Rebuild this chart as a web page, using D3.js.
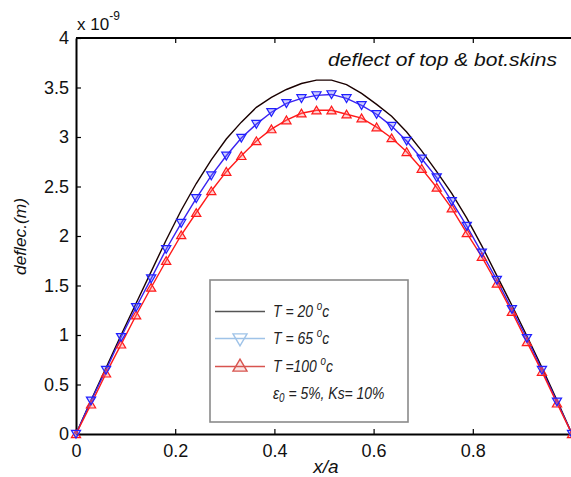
<!DOCTYPE html>
<html><head><meta charset="utf-8">
<script src="https://cdn.jsdelivr.net/npm/d3@7"></script>
<style>body{margin:0;background:#fff}svg{display:block}</style>
</head><body>
<script>
// x positions: k/33, k = 0..33
const xIdx = d3.range(34);
const xVals = xIdx.map(k => k / 33);
const yBlack = [0, 0.34, 0.67, 1.00, 1.32, 1.64, 1.96, 2.26, 2.53, 2.77, 2.98, 3.15, 3.30, 3.40, 3.48, 3.54, 3.575, 3.575, 3.53, 3.44, 3.33, 3.21, 3.05, 2.86, 2.65, 2.43, 2.18, 1.90, 1.60, 1.30, 0.99, 0.67, 0.34, 0];
const yBlue = [0, 0.336, 0.646, 0.977, 1.28, 1.57, 1.866, 2.13, 2.38, 2.61, 2.81, 2.99, 3.13, 3.25, 3.34, 3.39, 3.42, 3.43, 3.39, 3.32, 3.23, 3.11, 2.96, 2.78, 2.59, 2.35, 2.10, 1.83, 1.556, 1.26, 0.967, 0.646, 0.326, 0];
const yRed = [0, 0.30, 0.613, 0.906, 1.20, 1.48, 1.75, 2.01, 2.235, 2.455, 2.65, 2.81, 2.96, 3.08, 3.17, 3.24, 3.27, 3.27, 3.23, 3.19, 3.10, 2.99, 2.85, 2.68, 2.49, 2.28, 2.03, 1.79, 1.52, 1.235, 0.93, 0.63, 0.31, 0];
const xTicks = [0, 0.2, 0.4, 0.6, 0.8];
const xTickLabels = ["0", "0.2", "0.4", "0.6", "0.8"];
const yTicks = [0, 0.5, 1, 1.5, 2, 2.5, 3, 3.5, 4];
const yTickLabels = ["0", "0.5", "1", "1.5", "2", "2.5", "3", "3.5", "4"];
const legendLabels = ["T = 20 ", "T = 65 ", "T =100 "];

const W = 571, H = 477;
const svg = d3.select("body").append("svg").attr("width", W).attr("height", H);
const x = d3.scaleLinear().domain([0, 1]).range([76, 572]);
const y = d3.scaleLinear().domain([0, 4]).range([434, 38]);

const font = "'Liberation Sans', Arial, sans-serif";

// axes
const xAxis = d3.axisBottom(x).tickValues(xTicks).tickFormat((d,i)=>xTickLabels[i]).tickSizeInner(-5).tickSizeOuter(0).tickPadding(10);
const gx = svg.append("g").attr("transform", `translate(0,${y(0)})`).call(xAxis);
const gxTop = svg.append("g").attr("transform", `translate(0,${y(4)})`).call(d3.axisTop(x).tickValues(xTicks.slice(1)).tickSizeInner(-5).tickSizeOuter(0).tickFormat(""));
const yAxis = d3.axisLeft(y).tickValues(yTicks).tickFormat((d,i)=>yTickLabels[i]).tickSizeInner(-5).tickSizeOuter(0).tickPadding(7);
const gy = svg.append("g").attr("transform", `translate(${x(0)},0)`).call(yAxis);
[gx, gxTop, gy].forEach(g => {
  g.select(".domain").attr("stroke", "#000").attr("stroke-width", 2);
  g.selectAll(".tick line").attr("stroke", "#000").attr("stroke-width", 1.2);
  g.selectAll(".tick text").attr("font-family", font).attr("font-size", 18).attr("fill", "#111");
});
gx.selectAll(".tick text").attr("dy", "0.71em");
gxTop.select(".domain").attr("d", `M${x(0)},0H${x(1)}`);

// lines
const line = d3.line().x((d,i)=>x(xVals[i])).y(d=>y(d));
svg.append("path").datum(yBlack).attr("d", line).attr("fill","none").attr("stroke","#1a0000").attr("stroke-width",1.4);
svg.append("path").datum(yBlue).attr("d", line).attr("fill","none").attr("stroke","#3a22f0").attr("stroke-width",1.4);
svg.append("path").datum(yRed).attr("d", line).attr("fill","none").attr("stroke","#ff1a1a").attr("stroke-width",1.4);

const triDown = (s) => `M${-s},${-s*0.8}L${s},${-s*0.8}L0,${s*0.9}Z`;
const triUp = (s) => `M${-s},${s*0.8}L${s},${s*0.8}L0,${-s*0.9}Z`;

svg.append("g").selectAll("path").data(yRed).join("path")
  .attr("transform", (d,i)=>`translate(${x(xVals[i])},${y(d)})`)
  .attr("d", triUp(4.6)).attr("fill","rgba(255,120,120,0.35)").attr("stroke","#ff1a1a").attr("stroke-width",1.2);
svg.append("g").selectAll("path").data(yBlue).join("path")
  .attr("transform", (d,i)=>`translate(${x(xVals[i])},${y(d)})`)
  .attr("d", triDown(4.6)).attr("fill","rgba(110,110,255,0.35)").attr("stroke","#2020ff").attr("stroke-width",1.2);

// exponent label
const ex = svg.append("text").attr("x", 77).attr("y", 30).attr("font-family", font).attr("font-size", 17).attr("fill","#111");
ex.append("tspan").text("x 10");
ex.append("tspan").attr("dy", -10).attr("font-size", 12).text("-9");

// title text
svg.append("text").attr("x", 328).attr("y", 66).attr("font-family", font)
  .attr("font-style","italic").attr("font-size", 18).attr("textLength", 229).attr("lengthAdjust","spacingAndGlyphs")
  .attr("fill","#111").text("deflect of top & bot.skins");

// axis titles
svg.append("text").attr("x", 326).attr("y", 473).attr("text-anchor","middle").attr("font-family", font)
  .attr("font-style","italic").attr("font-size", 19).attr("fill","#111").text("x/a");
svg.append("text").attr("transform","translate(26,275) rotate(-90)").attr("font-family", font)
  .attr("font-style","italic").attr("font-size", 17).attr("textLength", 77).attr("lengthAdjust","spacingAndGlyphs")
  .attr("fill","#111").text("deflec.(m)");

// legend
const lg = svg.append("g");
lg.append("rect").attr("x", 210).attr("y", 280).attr("width", 198).attr("height", 142)
  .attr("fill","#fff").attr("stroke","#8a8a8a").attr("stroke-width",1.6);
const lgColors = ["#555", "#9fc3e8", "#d8544f"];
const rowY = [311.5, 338.5, 366.5];
const lfont = "'Liberation Sans Narrow', 'Liberation Sans', Arial, sans-serif";
legendLabels.forEach((lab, i) => {
  lg.append("line").attr("x1", 215).attr("x2", 265).attr("y1", rowY[i]).attr("y2", rowY[i])
    .attr("stroke", lgColors[i]).attr("stroke-width", 1.6);
  if (i === 1) lg.append("path").attr("transform", `translate(240,${rowY[i]+1})`).attr("d", triDown(7))
    .attr("fill","none").attr("stroke", lgColors[i]).attr("stroke-width",1.4);
  if (i === 2) lg.append("path").attr("transform", `translate(240,${rowY[i]-1})`).attr("d", triUp(7))
    .attr("fill","rgba(216,84,79,0.15)").attr("stroke", lgColors[i]).attr("stroke-width",1.4);
  const t = lg.append("text").attr("transform", `translate(273,${rowY[i]+5}) scale(0.82,1)`).attr("font-family", lfont)
    .attr("font-style","italic").attr("font-size", 17).attr("fill","#222");
  t.append("tspan").text(lab);
  t.append("tspan").attr("dy", -7).attr("font-size", 12).text("o");
  t.append("tspan").attr("dy", 7).text("c");
});
const et = lg.append("text").attr("transform", "translate(273,399) scale(0.82,1)").attr("font-family", lfont)
  .attr("font-style","italic").attr("font-size", 17).attr("fill","#222");
et.append("tspan").text("ε");
et.append("tspan").attr("dy", 3).attr("font-size", 12).text("0");
et.append("tspan").attr("dy", -3).text(" = 5%,  Ks= 10%");
</script>
</body></html>
